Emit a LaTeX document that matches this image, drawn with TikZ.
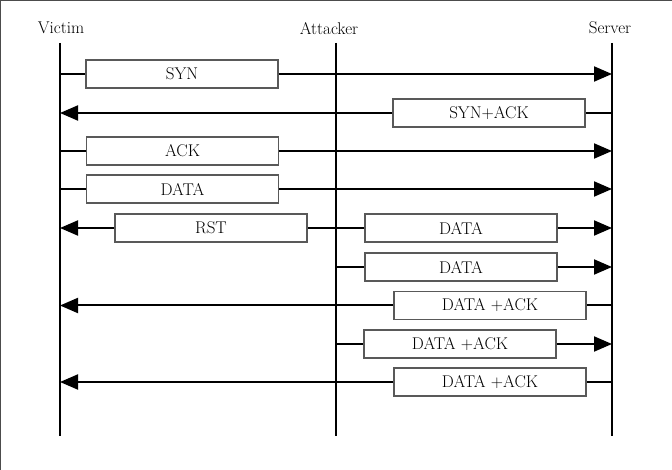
\documentclass[tikz,border=0pt]{standalone}
\usepackage{fontspec}
\usetikzlibrary{arrows.meta}

\begin{document}
\begin{tikzpicture}[x=1pt, y=-1pt]

\tikzset{msgbox/.style={draw=black!65, line width=1.2pt, fill=white, minimum width=192pt, minimum height=28pt, inner sep=0pt, font=\fontsize{17}{20}\selectfont}}
\tikzset{msg/.style={line width=2pt}}
\tikzset{tip/.style={msg, -{Triangle[length=18pt,width=15pt]}}}
\tikzset{life/.style={line width=2pt}}
\tikzset{role/.style={font=\fontsize{17}{20}\selectfont}}

\def\xvic{60}
\def\xatt{336}
\def\xsrv{612}

\useasboundingbox (0,0) rectangle (672,470);
\draw[black!70, line width=1.5pt] (0,470) -- (0,0) -- (672,0);

% lifelines
\node[role] (victim) at (61,28) {Victim};
\node[role] (attacker) at (329,29) {Attacker};
\node[role] (server) at (610,28) {Server};

\coordinate (vtop) at (\xvic,43);
\coordinate (vbot) at (\xvic,436);
\coordinate (atop) at (\xatt,43);
\coordinate (abot) at (\xatt,436);
\coordinate (stop) at (\xsrv,43);
\coordinate (sbot) at (\xsrv,436);

\draw[life] (vtop) -- (vbot);
\draw[life] (atop) -- (abot);
\draw[life] (stop) -- (sbot);

% handshake
\coordinate (v1) at (\xvic,74);
\coordinate (s1) at (\xsrv,74);
\node[msgbox] (syn) at (182,74) {SYN};
\draw[msg] (v1) -- (syn);
\draw[tip] (syn) -- (s1);

\coordinate (s2) at (\xsrv,113);
\coordinate (v2) at (\xvic,113);
\node[msgbox] (synack) at (489,113) {SYN+ACK};
\draw[msg] (s2) -- (synack);
\draw[tip] (synack) -- (v2);

\coordinate (v3) at (\xvic,151);
\coordinate (s3) at (\xsrv,151);
\node[msgbox] (ack) at (182.5,151) {ACK};
\draw[msg] (v3) -- (ack);
\draw[tip] (ack) -- (s3);

\coordinate (v4) at (\xvic,189);
\coordinate (s4) at (\xsrv,189);
\node[msgbox] (dataone) at (182.5,189) {DATA};
\draw[msg] (v4) -- (dataone);
\draw[tip] (dataone) -- (s4);

% attack
\coordinate (a5) at (\xatt,228);
\coordinate (v5) at (\xvic,228);
\coordinate (s5) at (\xsrv,228);
\node[msgbox] (rst) at (211,228) {RST};
\node[msgbox] (datatwo) at (461,228) {DATA};
\draw[msg] (datatwo) -- (rst);
\draw[tip] (rst) -- (v5);
\draw[tip] (datatwo) -- (s5);

\coordinate (a6) at (\xatt,267);
\coordinate (s6) at (\xsrv,267);
\node[msgbox] (datathree) at (461,267) {DATA};
\draw[msg] (a6) -- (datathree);
\draw[tip] (datathree) -- (s6);

\coordinate (s7) at (\xsrv,305.5);
\coordinate (v7) at (\xvic,305.5);
\node[msgbox] (dackone) at (490,305.5) {DATA +ACK};
\draw[msg] (s7) -- (dackone);
\draw[tip] (dackone) -- (v7);

\coordinate (a8) at (\xatt,344);
\coordinate (s8) at (\xsrv,344);
\node[msgbox] (dacktwo) at (460,344) {DATA +ACK};
\draw[msg] (a8) -- (dacktwo);
\draw[tip] (dacktwo) -- (s8);

\coordinate (s9) at (\xsrv,382);
\coordinate (v9) at (\xvic,382);
\node[msgbox] (dackthree) at (490,382) {DATA +ACK};
\draw[msg] (s9) -- (dackthree);
\draw[tip] (dackthree) -- (v9);

\end{tikzpicture}
\end{document}
